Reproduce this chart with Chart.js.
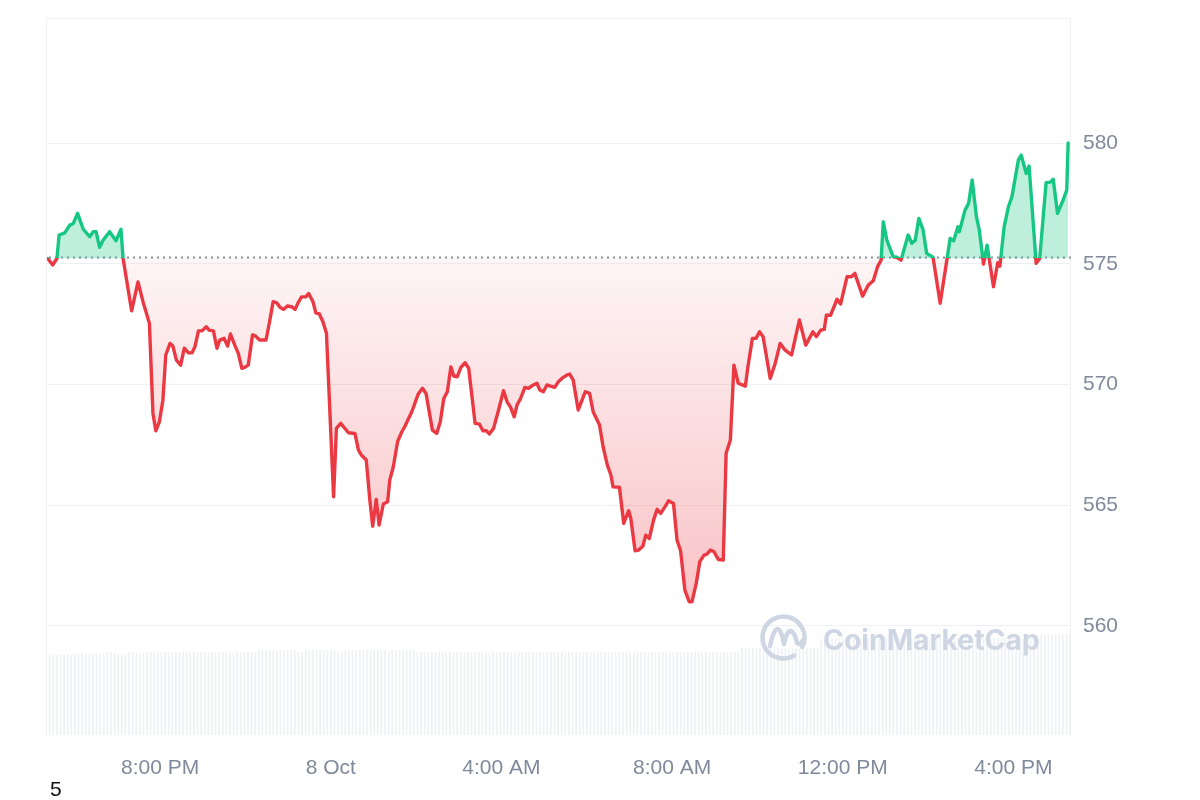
<!DOCTYPE html>
<html>
<head>
<meta charset="utf-8">
<script src="https://cdn.jsdelivr.net/npm/chart.js@4.4.1/dist/chart.umd.min.js"></script>
<style>
html,body{margin:0;padding:0;background:#fff;width:1200px;height:800px;overflow:hidden;}
#wrap{position:absolute;left:0;top:0;width:1200px;height:800px;}
#note{position:absolute;left:50px;top:778px;font:21px/21px "Liberation Sans", Arial, sans-serif;color:#111;}
</style>
</head>
<body>
<div id="wrap"><canvas id="c" width="1200" height="800"></canvas></div>
<div id="note">5</div>
<script>
// minutes after 17:21 (7 Oct) for each price vertex
const minutes = [1,8,14,17,25,32,37,43,51,60,65,69,74,79,88,97,104,107,112,119,128,135,144,149,153,158,163,167,173,177,182,188,193,199,204,208,213,218,224,228,234,239,243,249,254,258,264,269,274,278,283,289,293,299,308,313,318,323,328,333,338,344,349,353,358,364,368,374,378,383,388,393,403,407,413,424,433,438,442,449,454,458,463,467,473,479,482,487,493,499,503,513,522,528,533,542,548,553,558,563,568,572,577,582,588,593,602,608,613,618,622,628,635,642,647,652,657,661,666,672,677,684,689,693,698,703,708,714,719,724,731,735,740,747,757,763,768,777,782,788,793,796,805,811,818,821,827,832,838,842,847,853,858,863,869,874,881,886,891,897,903,907,913,918,924,928,933,938,944,951,955,961,966,972,982,986,992,997,1002,1007,1017,1024,1031,1038,1047,1058,1067,1077,1082,1088,1093,1096,1102,1111,1116,1125,1131,1136,1147,1155,1162,1168,1173,1176,1181,1190,1195,1201,1211,1216,1221,1226,1232,1237,1246,1256,1264,1270,1275,1281,1283,1291,1296,1301,1307,1311,1317,1322,1331,1337,1340,1346,1352,1357,1366,1370,1377,1381,1391,1396,1405,1411,1415,1421,1429,1434,1436];
const prices = [575.22,574.95,575.22,576.19,576.28,576.60,576.67,577.09,576.43,576.12,576.33,576.33,575.68,575.98,576.33,575.95,576.43,575.22,574.32,573.05,574.25,573.43,572.53,568.80,568.08,568.45,569.35,571.22,571.70,571.59,571.01,570.80,571.50,571.31,571.31,571.56,572.22,572.22,572.39,572.25,572.22,571.50,571.84,571.91,571.59,572.09,571.63,571.29,570.67,570.71,570.80,572.05,572.01,571.84,571.84,572.60,573.43,573.38,573.19,573.11,573.25,573.22,573.11,573.38,573.63,573.63,573.77,573.43,572.97,572.92,572.60,572.12,565.35,568.18,568.39,568.00,567.97,567.28,567.08,566.87,565.21,564.13,565.24,564.18,565.05,565.14,566.04,566.59,567.63,568.04,568.25,568.87,569.60,569.84,569.63,568.11,567.97,568.45,569.42,569.70,570.73,570.35,570.32,570.71,570.90,570.67,568.39,568.36,568.08,568.08,567.95,568.18,568.94,569.74,569.28,569.05,568.66,569.15,569.42,569.88,569.84,569.98,570.05,569.77,569.70,569.98,569.93,569.88,570.11,570.25,570.39,570.43,570.18,568.94,569.70,569.63,568.87,568.32,567.42,566.66,566.25,565.76,565.74,564.25,564.77,564.45,563.11,563.14,563.31,563.76,563.62,564.38,564.83,564.66,564.93,565.18,565.07,563.55,563.11,561.48,561.00,561.00,561.76,562.66,562.93,562.97,563.14,563.07,562.75,562.73,567.15,567.70,570.80,570.05,569.93,570.80,571.91,571.91,572.18,571.98,570.25,570.87,571.70,571.42,571.22,572.67,571.63,572.18,571.98,572.25,572.28,572.87,572.87,573.53,573.33,574.46,574.46,574.60,573.66,574.12,574.30,574.88,575.15,576.74,575.98,575.29,575.27,575.15,576.19,575.85,575.98,576.88,576.40,575.43,575.27,573.36,574.88,576.05,575.95,576.53,576.33,577.22,577.50,578.47,576.95,576.40,574.99,575.77,574.05,575.04,574.90,576.53,577.36,577.78,579.30,579.50,578.74,579.05,575.02,575.22,578.36,578.38,578.50,577.09,577.64,578.05,580.00];
const openPrice = 575.22;
const priceTicks = [560, 565, 570, 575, 580];
const timeTicks = [159, 399, 639, 879, 1119, 1359];
const timeLabels = ['8:00 PM', '8 Oct', '4:00 AM', '8:00 AM', '12:00 PM', '4:00 PM'];
// 288 five-minute volume bars (relative units)
const volumes = [
112.6,112.6,112.6,112.6,112.6,112.6,112.6,112.6,112.6,115.3,
112.6,112.6,112.6,112.6,112.6,115.3,115.3,115.3,115.3,112.6,
112.6,112.6,115.3,115.3,115.3,112.6,115.3,115.3,115.3,115.3,
115.3,115.3,115.3,115.3,115.3,115.3,115.3,115.3,115.3,115.3,
115.3,115.3,115.3,115.3,115.3,115.3,115.3,115.3,115.3,115.3,
115.3,115.3,115.3,115.3,115.3,115.3,115.3,115.3,118.5,118.5,
118.5,118.5,118.5,118.5,118.5,118.5,118.5,118.5,118.5,115.3,
115.3,118.5,118.5,118.5,118.5,118.5,118.5,118.5,118.5,118.5,
115.3,115.3,118.5,118.5,118.5,118.5,118.5,118.5,118.5,118.5,
118.5,118.5,118.5,118.5,115.3,118.5,118.5,118.5,118.5,118.5,
118.5,118.5,115.3,115.3,115.3,115.3,115.3,115.3,115.3,115.3,
115.3,115.3,115.3,115.3,115.3,115.3,115.3,115.3,115.3,115.3,
115.3,115.3,115.3,115.3,115.3,115.3,115.3,115.3,115.3,115.3,
115.3,115.3,115.3,115.3,115.3,115.3,115.3,115.3,115.3,115.3,
115.3,115.3,115.3,115.3,115.3,115.3,115.3,115.3,115.3,115.3,
115.3,115.3,115.3,115.3,115.3,115.3,115.3,115.3,115.3,115.3,
115.3,115.3,115.3,115.3,115.3,115.3,115.3,115.3,115.3,115.3,
115.3,115.3,115.3,115.3,115.3,115.3,115.3,115.3,115.3,115.3,
115.3,115.3,115.3,115.3,115.3,115.3,115.3,115.3,115.3,115.3,
115.3,115.3,120.9,120.9,120.9,120.9,120.9,120.9,120.9,120.9,
120.9,120.9,120.9,120.9,120.9,120.9,120.9,120.9,120.9,120.9,
120.9,120.9,120.9,120.9,134.9,134.9,134.9,134.9,134.9,134.9,
134.9,134.9,134.9,134.9,134.9,134.9,134.9,134.9,134.9,134.9,
134.9,134.9,134.9,134.9,134.9,134.9,134.9,134.9,134.9,134.9,
134.9,134.9,134.9,134.9,134.9,134.9,134.9,134.9,134.9,134.9,
134.9,134.9,134.9,134.9,134.9,134.9,134.9,134.9,134.9,134.9,
134.9,134.9,134.9,134.9,134.9,134.9,134.9,134.9,134.9,134.9,
134.9,134.9,134.9,134.9,134.9,140.4,140.4,140.4,140.4,140.4,
140.4,140.4,140.4,140.4
];

const GREEN = '#16c784', RED = '#ea3943';
const FONT = "'Liberation Sans', Arial, sans-serif";
const TICK_COLOR = '#808a9d';
const GRID = '#eef0f3';

function splitColor(ctx) {
  const chart = ctx.chart, area = chart.chartArea;
  if (!area) return RED;
  const yb = chart.scales.y.getPixelForValue(openPrice);
  const f = Math.min(1, Math.max(0, (yb - area.top) / (area.bottom - area.top)));
  const g = chart.ctx.createLinearGradient(0, area.top, 0, area.bottom);
  g.addColorStop(0, GREEN); g.addColorStop(f, GREEN);
  g.addColorStop(f, RED); g.addColorStop(1, RED);
  return g;
}
function belowFill(ctx) {
  const chart = ctx.chart, area = chart.chartArea;
  if (!area) return 'rgba(234,57,67,0.1)';
  const yb = chart.scales.y.getPixelForValue(openPrice);
  const ym = chart.scales.y.getPixelForValue(Math.min(...prices));
  const g = chart.ctx.createLinearGradient(0, yb, 0, ym);
  g.addColorStop(0, 'rgba(234,57,67,0.05)');
  g.addColorStop(1, 'rgba(234,57,67,0.30)');
  return g;
}

const framePlugin = {
  id: 'frame',
  beforeDatasetsDraw(chart) {
    const c = chart.ctx, a = chart.chartArea;
    c.save();
    c.strokeStyle = GRID; c.lineWidth = 1;
    c.beginPath();
    c.moveTo(a.left - 0.5, a.bottom); c.lineTo(a.left - 0.5, a.top + 0.5);
    c.lineTo(a.right - 0.5, a.top + 0.5); c.lineTo(a.right - 0.5, a.bottom);
    c.stroke();
    const yb = Math.round(chart.scales.y.getPixelForValue(openPrice)) - 0.5;
    c.strokeStyle = '#8f949c'; c.lineWidth = 2; c.setLineDash([2, 4]);
    c.beginPath(); c.moveTo(a.left + 2, yb); c.lineTo(a.right, yb); c.stroke();
    c.restore();
  }
};

const watermarkPlugin = {
  id: 'watermark',
  afterDatasetsDraw(chart) {
    const c = chart.ctx;
    c.save();
    const col = '#cfd6e3';
    c.strokeStyle = col; c.lineWidth = 4.5; c.lineCap = 'round'; c.lineJoin = 'round';
    const cx = 783.5, cy = 637.5, r = 21;
    c.beginPath(); c.arc(cx, cy, r, Math.PI / 3, 2 * Math.PI + 0.15 * Math.PI); c.stroke();
    c.beginPath();
    c.moveTo(770, 646);
    c.quadraticCurveTo(774, 628, 778, 629);
    c.quadraticCurveTo(782, 631, 784, 644);
    c.quadraticCurveTo(787, 630, 791, 631);
    c.quadraticCurveTo(795, 633, 797, 643);
    c.quadraticCurveTo(800, 646, 803, 640);
    c.stroke();
    c.fillStyle = col;
    let size = 29;
    c.font = `700 ${size}px Inter, Roboto, sans-serif`;
    const w = c.measureText('CoinMarketCap').width;
    size = size * 217 / w;
    c.font = `700 ${size}px Inter, Roboto, sans-serif`;
    c.textBaseline = 'alphabetic';
    c.fillText('CoinMarketCap', 823, 650);
    c.restore();
  }
};

new Chart(document.getElementById('c'), {
  type: 'line',
  data: {
    datasets: [{
      type: 'line',
      order: 0,
      data: minutes.map((m, i) => ({ x: m, y: prices[i] })),
      xAxisID: 'x', yAxisID: 'y',
      borderColor: splitColor,
      backgroundColor: belowFill,
      fill: { value: openPrice, above: 'rgba(22,199,132,0.28)' },
      borderWidth: 3.4,
      pointRadius: 0,
      tension: 0,
      borderJoinStyle: 'round',
      borderCapStyle: 'round'
    }, {
      type: 'bar',
      order: 1,
      data: volumes,
      xAxisID: 'xv', yAxisID: 'yv',
      backgroundColor: '#eff2f5',
      borderWidth: 0,
      barPercentage: 0.97,
      categoryPercentage: 1
    }]
  },
  options: {
    responsive: false,
    devicePixelRatio: 1,
    animation: false,
    layout: { padding: { left: 47, top: 18, right: 0, bottom: 0 } },
    plugins: { legend: { display: false }, tooltip: { enabled: false } },
    scales: {
      x: {
        type: 'linear', position: 'bottom', min: 0, max: 1440,
        afterBuildTicks: s => { s.ticks = timeTicks.map(v => ({ value: v })); },
        afterFit: s => { s.height = 65; s.paddingLeft = 0; s.paddingRight = 0; },
        grid: { display: false, drawTicks: false },
        border: { display: false },
        ticks: {
          autoSkip: false, maxRotation: 0, padding: 21,
          color: TICK_COLOR, font: { family: FONT, size: 21 },
          callback: v => timeLabels[timeTicks.indexOf(v)]
        }
      },
      xv: {
        type: 'category', labels: volumes.map((_, i) => String(i)),
        display: false, offset: true
      },
      y: {
        position: 'right', min: 555.48, max: 585.18,
        afterBuildTicks: s => { s.ticks = priceTicks.map(v => ({ value: v })); },
        afterFit: s => { s.width = 129; s.paddingTop = 0; s.paddingBottom = 0; },
        grid: { color: GRID, lineWidth: 1, drawTicks: false },
        border: { display: false },
        ticks: {
          padding: 12, color: TICK_COLOR, font: { family: FONT, size: 21 },
          callback: v => String(v)
        }
      },
      yv: { display: false, min: 0, max: 1000 }
    }
  },
  plugins: [framePlugin, watermarkPlugin]
});
</script>
</body>
</html>
